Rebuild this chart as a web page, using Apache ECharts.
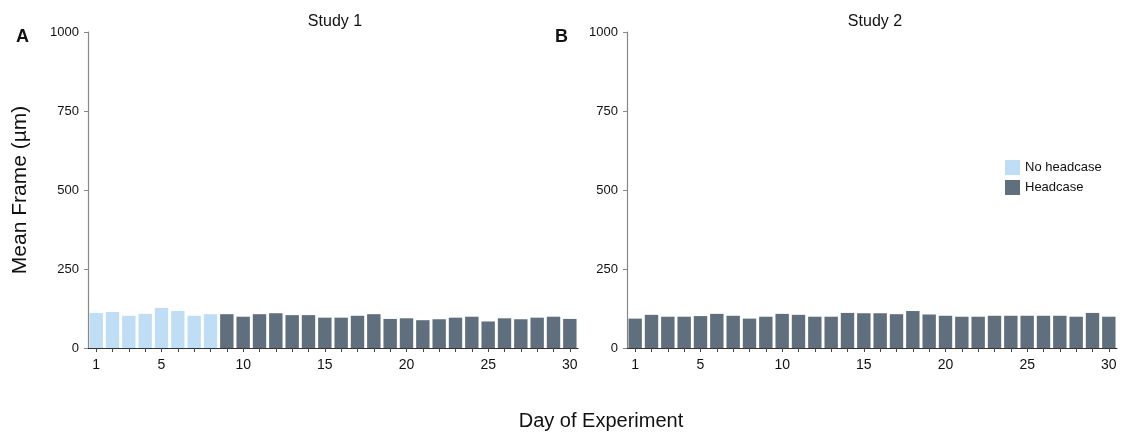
<!DOCTYPE html>
<html><head><meta charset="utf-8">
<script src="https://cdn.jsdelivr.net/npm/echarts@6/dist/echarts.min.js"></script>
<style>html,body{margin:0;padding:0;background:#fff}#c{width:1125px;height:434px}</style>
</head><body><div id="c"></div>
<script>
const days = Array.from({length:30},(_,i)=>String(i+1));
const xTickLabels = ['1','5','10','15','20','25','30'];
const yTicks = [0,250,500,750,1000];
// Study 1: days 1-8 no headcase, days 9-30 headcase
const study1NoHeadcase = [111,114,102,108,127,117,102,107];
const study1Headcase = [107,99,107,110,104,104,96,96,102,107,92,94,88,91,96,99,84,94,91,96,99,92];
const study2Headcase = [93,105,99,99,101,108,102,93,99,108,105,99,99,111,110,110,107,117,106,102,99,99,102,102,102,102,102,99,111,99];

const LIGHT = '#c0ddf6', DARK = '#5f6f7d';
const FONT = '"Liberation Sans", Arial, sans-serif';
const s1No = days.map((d,i)=> i < study1NoHeadcase.length ? study1NoHeadcase[i] : '-');
const s1Yes = days.map((d,i)=> i < study1NoHeadcase.length ? '-' : study1Headcase[i-study1NoHeadcase.length]);

function xAxis(gi){
  return {type:'category', gridIndex:gi, data:days,
    axisLine:{lineStyle:{color:'#333',width:1.2}},
    axisTick:{show:true, alignWithLabel:true, interval:0, length:4, lineStyle:{color:'#444'}},
    axisLabel:{interval:0, color:'#111', fontSize:14, fontFamily:FONT, margin:10,
      formatter:v=> xTickLabels.includes(v)? v : ''}};
}
function yAxis(gi){
  return {type:'value', gridIndex:gi, min:yTicks[0], max:yTicks[yTicks.length-1], interval:yTicks[1]-yTicks[0],
    splitLine:{show:false},
    axisLine:{show:true, lineStyle:{color:'#888',width:1.2}},
    axisTick:{show:true, length:4, lineStyle:{color:'#888'}},
    axisLabel:{color:'#111', fontSize:13, fontFamily:FONT, margin:9, formatter:v=>String(v)}};
}
const chart = echarts.init(document.getElementById('c'));
chart.setOption({
  animation:false,
  textStyle:{fontFamily:FONT},
  grid:[{left:88,top:32,width:490,height:316},{left:627,top:32,width:490,height:316}],
  xAxis:[xAxis(0),xAxis(1)],
  yAxis:[yAxis(0),yAxis(1)],
  title:[
    {text:'Study 1', left:330, top:9, textAlign:'center', textStyle:{fontSize:16,fontWeight:'normal',color:'#111',fontFamily:FONT}},
    {text:'Study 2', left:870, top:9, textAlign:'center', textStyle:{fontSize:16,fontWeight:'normal',color:'#111',fontFamily:FONT}},
    {text:'A', left:11, top:23, textStyle:{fontSize:18,fontWeight:'bold',color:'#111',fontFamily:FONT}},
    {text:'B', left:550, top:23, textStyle:{fontSize:18,fontWeight:'bold',color:'#111',fontFamily:FONT}}
  ],
  legend:{orient:'vertical', left:1000, top:155, itemWidth:15, itemHeight:15, itemGap:5,
    icon:'rect', textStyle:{fontSize:13,color:'#111',fontFamily:FONT},
    data:['No headcase','Headcase']},
  graphic:[
    {type:'text', x:601, y:421, style:{text:'Day of Experiment', font:'20px '+FONT, fill:'#111', textAlign:'center', textVerticalAlign:'middle'}},
    {type:'text', rotation:Math.PI/2, x:20, y:190, style:{text:'Mean Frame (µm)', font:'21px '+FONT, fill:'#111', textAlign:'center', textVerticalAlign:'middle'}}
  ],
  series:[
    {name:'No headcase', type:'bar', xAxisIndex:0, yAxisIndex:0, stack:'a', data:s1No, barCategoryGap:'18%', itemStyle:{color:LIGHT}},
    {name:'Headcase', type:'bar', xAxisIndex:0, yAxisIndex:0, stack:'a', data:s1Yes, barCategoryGap:'18%', itemStyle:{color:DARK}},
    {name:'Headcase', type:'bar', xAxisIndex:1, yAxisIndex:1, data:study2Headcase, barCategoryGap:'18%', itemStyle:{color:DARK}}
  ]
});
</script></body></html>
